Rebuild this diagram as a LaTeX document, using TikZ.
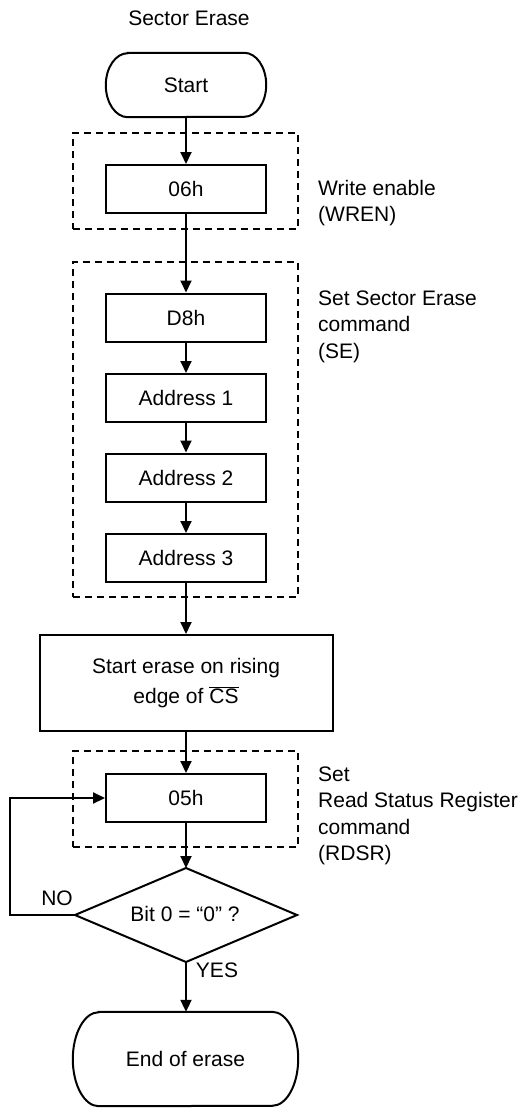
\documentclass[tikz,border=0pt]{standalone}
\usepackage{fontspec}
\setmainfont{Liberation Sans}
\usetikzlibrary{arrows.meta}
\newcommand\lblfont{\fontsize{21pt}{26.5pt}\selectfont}
\begin{document}
\begin{tikzpicture}[x=1pt,y=-1pt,
  every node/.style={font=\lblfont, inner sep=0pt},
  line/.style={line width=2pt},
  flow/.style={line, -{Triangle[length=12pt,width=11pt]}},
  procbox/.style={draw, line width=2pt, minimum width=160pt, minimum height=48pt},
  groupbox/.style={draw, line width=2pt, dash pattern=on 7pt off 5pt, minimum width=225pt},
  sidelabel/.style={anchor=north west, align=left}
]
\useasboundingbox[fill=white] (0,0) rectangle (521,1108);

% title
\node (title) at (189,18) {Sector Erase};

% dashed group boxes
\node[groupbox, minimum height=96pt] (g1) at (185.5,181) {};
\node[groupbox, minimum height=335pt] (g2) at (185.5,429.5) {};
\node[groupbox, minimum height=96pt] (g3) at (185.5,799) {};

% start terminal
\node[minimum width=160pt, minimum height=64pt] (start) at (186,85) {Start};
\draw[line] ([xshift=22pt]start.north west) -- ([xshift=-22pt]start.north east)
  arc[start angle=90, end angle=-90, x radius=22pt, y radius=32pt]
  -- ([xshift=22pt]start.south west)
  arc[start angle=270, end angle=90, x radius=22pt, y radius=32pt] -- cycle;

% process boxes
\node[procbox] (p06) at (186,189) {06h};
\node[procbox] (pd8) at (186,317.5) {D8h};
\node[procbox] (a1) at (186,398) {Address 1};
\node[procbox] (a2) at (186,477.5) {Address 2};
\node[procbox] (a3) at (186,558) {Address 3};
\node[draw, line width=2pt, minimum width=293pt, minimum height=96pt, align=center,
      font=\fontsize{21pt}{29.5pt}\selectfont] (erase) at (186,683)
  {Start erase on rising\\edge of $\overline{\mbox{CS}}$};
\node[procbox] (p05) at (186,798) {05h};

% decision
\node (dec) at (185,914) {Bit 0 = “0” ?};
\coordinate (decN) at (186,868);
\coordinate (decE) at (297,915);
\coordinate (decS) at (186,962);
\coordinate (decW) at (75,915);
\draw[line, line join=miter] (decN) -- (decE) -- (decS) -- (decW) -- cycle;

% end terminal
\node[minimum width=225pt, minimum height=94pt] (end) at (185.5,1059) {End of erase};
\draw[line] ([xshift=26pt]end.north west) -- ([xshift=-26pt]end.north east)
  arc[start angle=90, end angle=-90, x radius=26pt, y radius=47pt]
  -- ([xshift=26pt]end.south west)
  arc[start angle=270, end angle=90, x radius=26pt, y radius=47pt] -- cycle;

% side labels
\node[sidelabel] (l1) at (318,180) {Write enable\\(WREN)};
\node[sidelabel] (l2) at (318,290.5) {Set Sector Erase\\command\\(SE)};
\node[sidelabel] (l3) at (318,766.5) {Set\\Read Status Register\\command\\(RDSR)};

% branch labels
\node (no) at (57,898) {NO};
\node (yes) at (217,970) {YES};

% connectors
\draw[flow] (start.south) -- (p06.north);
\draw[flow] (p06.south) -- (pd8.north);
\draw[flow] (pd8.south) -- (a1.north);
\draw[flow] (a1.south) -- (a2.north);
\draw[flow] (a2.south) -- (a3.north);
\draw[flow] (a3.south) -- (erase.north);
\draw[flow] (erase.south) -- (p05.north);
\draw[flow] (p05.south) -- (decN);
\draw[flow] (decS) -- ([xshift=0.5pt]end.north);
\coordinate (loop) at (9.5,915);
\draw[flow] (decW) -- (loop) |- (p05.west);
\end{tikzpicture}
\end{document}
